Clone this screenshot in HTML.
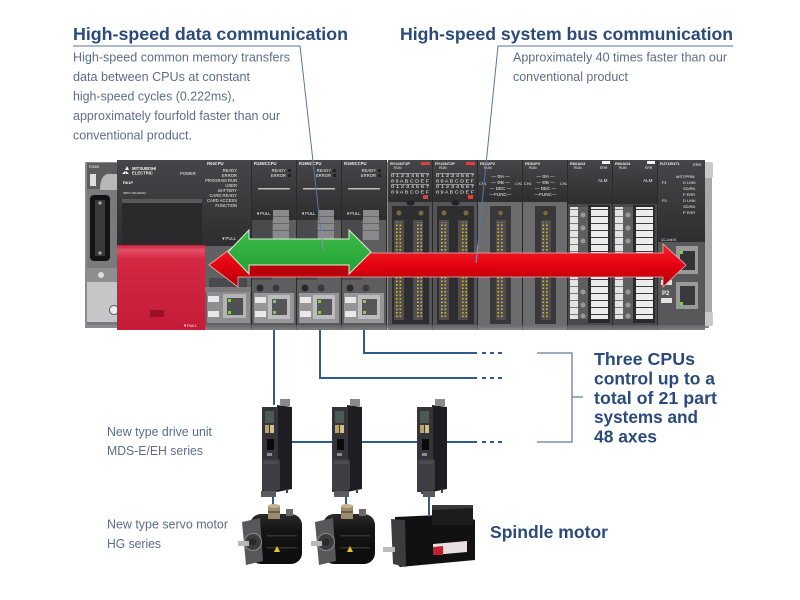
<!DOCTYPE html>
<html><head><meta charset="utf-8">
<style>
html,body{margin:0;padding:0;background:#fff;width:800px;height:600px;overflow:hidden;}
svg{display:block;}
text{font-family:"Liberation Sans",Arial,sans-serif;}
</style></head><body>
<svg width="800" height="600" viewBox="0 0 800 600" xmlns="http://www.w3.org/2000/svg">
<defs>
 <linearGradient id="redg" x1="0" y1="0" x2="0" y2="1">
  <stop offset="0" stop-color="#f5222c"/>
  <stop offset="0.55" stop-color="#e2000f"/>
  <stop offset="1" stop-color="#a8000a"/>
 </linearGradient>
 <linearGradient id="greeng" x1="0" y1="0" x2="0" y2="1">
  <stop offset="0" stop-color="#3cbc48"/>
  <stop offset="1" stop-color="#23a035"/>
 </linearGradient>
 <linearGradient id="psred" x1="0" y1="0" x2="0" y2="1">
  <stop offset="0" stop-color="#c81d38"/>
  <stop offset="0.06" stop-color="#e4506a"/>
  <stop offset="0.16" stop-color="#d42843"/>
  <stop offset="1" stop-color="#c41c38"/>
 </linearGradient>
 <linearGradient id="darkg" x1="0" y1="0" x2="0" y2="1">
  <stop offset="0" stop-color="#46464a"/>
  <stop offset="1" stop-color="#2e2e31"/>
 </linearGradient>
 <linearGradient id="botg" x1="0" y1="0" x2="0" y2="1">
  <stop offset="0" stop-color="#6a6a6c"/>
  <stop offset="1" stop-color="#9a9a9c"/>
 </linearGradient>
 <linearGradient id="motg" x1="0" y1="0" x2="0" y2="1">
  <stop offset="0" stop-color="#2a2a2a"/>
  <stop offset="0.3" stop-color="#151515"/>
  <stop offset="1" stop-color="#0c0c0c"/>
 </linearGradient>
 <pattern id="ydots" width="3.5" height="3.5" patternUnits="userSpaceOnUse">
  <rect x="0.5" y="0.5" width="1.6" height="1.6" fill="#d8b432"/>
 </pattern>
 <pattern id="term" width="10" height="7" patternUnits="userSpaceOnUse">
  <rect x="0" y="0" width="10" height="7" fill="#ececec"/>
  <rect x="0" y="6" width="10" height="1" fill="#3a3a3a"/>
 </pattern>
</defs>

<!-- ===== Headings ===== -->
<text x="73" y="40" font-size="17.8" font-weight="bold" fill="#2b4a7c" textLength="275" lengthAdjust="spacingAndGlyphs">High-speed data communication</text>
<text x="400" y="40" font-size="17.8" font-weight="bold" fill="#2b4a7c" textLength="333" lengthAdjust="spacingAndGlyphs">High-speed system bus communication</text>

<g font-size="12.6" fill="#5d6d89">
 <text x="73" y="61.5" textLength="217" lengthAdjust="spacingAndGlyphs">High-speed common memory transfers</text>
 <text x="73" y="81" textLength="177" lengthAdjust="spacingAndGlyphs">data between CPUs at constant</text>
 <text x="73" y="100.5" textLength="162" lengthAdjust="spacingAndGlyphs">high-speed cycles (0.222ms),</text>
 <text x="73" y="120" textLength="207" lengthAdjust="spacingAndGlyphs">approximately fourfold faster than our</text>
 <text x="73" y="139.5" textLength="119" lengthAdjust="spacingAndGlyphs">conventional product.</text>
 <text x="513" y="61.5" textLength="214" lengthAdjust="spacingAndGlyphs">Approximately 40 times faster than our</text>
 <text x="513" y="81" textLength="115" lengthAdjust="spacingAndGlyphs">conventional product</text>
</g>

<!-- ===== PLC rack ===== -->
<rect x="85" y="162" width="624" height="166" fill="#8c8c8e"/>
<rect x="703" y="168" width="9" height="150" fill="#a8a8aa" rx="2"/>
<rect x="704" y="162" width="9" height="16" fill="#c8c8ca" rx="2"/>
<rect x="704" y="312" width="9" height="14" fill="#c8c8ca" rx="2"/>

<!-- R35B -->
<rect x="87" y="163" width="31" height="162" fill="#7a7a7c"/>
<rect x="87" y="163" width="31" height="26" fill="#5c5c5e"/>
<text x="89" y="168" font-size="4" fill="#eee">R35B</text>
<rect x="90" y="174" width="6" height="12" fill="#dddddd"/>
<path d="M100 190 Q100 172 112 174 L118 174 L118 190 Z" fill="#b8b8ba"/>
<rect x="90" y="195" width="20" height="66" rx="4" fill="#131313"/>
<rect x="95" y="200" width="10" height="56" fill="#3a3a3a"/>
<circle cx="100" cy="203" r="1.6" fill="#aaa"/><circle cx="100" cy="253" r="1.6" fill="#aaa"/>
<rect x="87" y="268" width="31" height="14" fill="#8e8e90"/>
<circle cx="101" cy="275" r="3" fill="#dcdcdc"/>
<rect x="87" y="282" width="31" height="40" fill="#c6c6c8"/>
<circle cx="114" cy="310" r="4.5" fill="#eee" stroke="#555" stroke-width="1"/>

<!-- R61P power supply -->
<rect x="117" y="160" width="88" height="86" fill="url(#darkg)"/>
<rect x="122" y="199" width="80" height="4" fill="#585858"/>
<rect x="122" y="203" width="80" height="43" fill="#2a2a2c"/>
<g fill="#f2f2f2" font-size="4.5">
 <path d="M125 170 l2 -4 l2 4 z M122 174 l3 -3 l1 3 z M129 174 l-3 -3 l-1 3 z"/>
 <text x="132" y="170" font-size="4.2" font-weight="bold">MITSUBISHI</text>
 <text x="132" y="174.5" font-size="4.2" font-weight="bold">ELECTRIC</text>
 <text x="180" y="175" font-size="4.2">POWER</text>
 <text x="123" y="184" font-size="4" font-weight="bold">R61P</text>
 <text x="123" y="194" font-size="2.6">INPUT 100-240VAC</text>
</g>
<rect x="117" y="245" width="88" height="85" fill="url(#psred)"/>
<rect x="150" y="310" width="14" height="7" fill="#9a1026"/>
<text x="183" y="327" font-size="4" fill="#fff">▼PULL</text>

<!-- R04CPU -->
<rect x="205" y="160" width="47" height="170" fill="#616163"/>
<rect x="205" y="160" width="47" height="86" fill="url(#darkg)"/>
<g fill="#eeeeee" font-size="4.2" text-anchor="end">
 <text x="207" y="165" text-anchor="start" font-weight="bold">R04CPU</text>
 <text x="237" y="172">READY</text>
 <text x="237" y="177">ERROR</text>
 <text x="237" y="182">PROGRAM RUN</text>
 <text x="237" y="187">USER</text>
 <text x="237" y="192">BATTERY</text>
 <text x="237" y="197">CARD READY</text>
 <text x="237" y="202">CARD ACCESS</text>
 <text x="237" y="207">FUNCTION</text>
 <text x="236" y="240">▼PULL</text>
</g>
<rect x="209" y="278" width="38" height="9" fill="#4a4a4c"/>
<rect x="205" y="287" width="47" height="5" fill="#7a7a7c"/>
<rect x="207" y="292" width="43" height="31" fill="#8e8e90"/>
<rect x="208" y="296" width="11" height="6" fill="#e8e8e8"/><rect x="208" y="311" width="11" height="6" fill="#e8e8e8"/>
<rect x="223" y="294" width="23" height="24" fill="#b4b4b6"/><rect x="227" y="298" width="16" height="17" fill="#505052"/>
<rect x="228" y="299" width="3" height="3" fill="#7cd04a"/><rect x="228" y="311" width="3" height="3" fill="#7cd04a"/>

<!-- R16NCCPU x3 -->
<g id="nc">
 <rect x="252" y="160" width="45" height="170" fill="#5e5e60"/>
 <rect x="252" y="160" width="45" height="60" fill="url(#darkg)"/>
 <text x="254" y="165" font-size="4.2" fill="#eee" font-weight="bold">R16NCCPU</text>
 <text x="286" y="172" font-size="4.2" fill="#eee" text-anchor="end">READY</text>
 <text x="286" y="177" font-size="4.2" fill="#eee" text-anchor="end">ERROR</text>
 <rect x="288" y="169" width="3" height="3" fill="#222"/><rect x="288" y="174" width="3" height="3" fill="#222"/>
 <rect x="258" y="188" width="32" height="1.5" fill="#bbbbbb"/>
 <text x="256" y="215" font-size="4.2" fill="#eee">▼PULL</text>
 <rect x="252" y="220" width="20" height="60" fill="#4a4a4c"/>
 <rect x="273" y="210" width="16" height="30" fill="#8a8a8c"/>
 <rect x="273" y="216" width="16" height="1" fill="#666"/><rect x="273" y="223" width="16" height="1" fill="#666"/><rect x="273" y="230" width="16" height="1" fill="#666"/>
 <circle cx="260" cy="288" r="3.5" fill="#2a2a2a"/><circle cx="276" cy="288" r="3.5" fill="#3a3a3a"/>
 <rect x="254" y="293" width="40" height="30" fill="#969698"/>
 <rect x="255" y="297" width="11" height="6" fill="#e8e8e8"/><rect x="255" y="311" width="11" height="6" fill="#e8e8e8"/>
 <rect x="268" y="295" width="22" height="24" fill="#bcbcbe"/><rect x="272" y="299" width="15" height="16" fill="#565658"/>
 <rect x="273" y="300" width="3" height="3" fill="#7cd04a"/><rect x="273" y="311" width="3" height="3" fill="#7cd04a"/>
 <rect x="252" y="323" width="45" height="7" fill="#58585a"/>
 <rect x="296" y="160" width="1" height="170" fill="#2a2a2a"/>
</g>
<use href="#nc" x="45"/>
<use href="#nc" x="90"/>
<rect x="251" y="160" width="1" height="170" fill="#2a2a2a"/>

<!-- I/O modules RY42NT2P, RX42C4 -->
<g id="io">
 <rect x="388" y="160" width="45" height="170" fill="#555558"/>
 <rect x="388" y="160" width="45" height="42" fill="url(#darkg)"/>
 <text x="390" y="165" font-size="4" fill="#eee" font-weight="bold">RY42NT2P</text>
 <text x="394" y="169" font-size="3.5" fill="#eee">RUN</text>
 <rect x="421" y="162" width="9" height="3" fill="#e04040"/>
 <g font-size="4.4" fill="#f0f0f0">
  <text x="391" y="177" textLength="38" lengthAdjust="spacingAndGlyphs">0 1 2 3 4 5 6 7</text>
  <text x="391" y="182.5" textLength="38" lengthAdjust="spacingAndGlyphs">8 9 A B C D E F</text>
  <text x="391" y="188" textLength="38" lengthAdjust="spacingAndGlyphs">0 1 2 3 4 5 6 7</text>
  <text x="391" y="193.5" textLength="38" lengthAdjust="spacingAndGlyphs">8 9 A B C D E F</text>
 </g>
 <rect x="391" y="173" width="38" height="0.6" fill="#ccc"/><rect x="391" y="184" width="38" height="0.6" fill="#ccc"/>
 <rect x="423" y="195" width="5" height="4" fill="#e04040"/>
 <ellipse cx="410.5" cy="203" rx="4" ry="2.5" fill="#222"/>
 <rect x="392" y="206" width="37" height="118" fill="#2e2e30"/>
 <circle cx="399" cy="213" r="2.5" fill="#7a6a3a"/><circle cx="421" cy="213" r="2.5" fill="#7a6a3a"/>
 <rect x="394" y="220" width="10" height="100" fill="#4e4e50"/>
 <rect x="413" y="220" width="10" height="100" fill="#4e4e50"/>
 <rect x="396" y="222" width="7" height="96" fill="url(#ydots)"/>
 <rect x="415" y="222" width="7" height="96" fill="url(#ydots)"/>
 <rect x="432" y="160" width="1" height="170" fill="#2a2a2a"/>
</g>
<use href="#io" x="45"/>

<!-- RD62P2 x2 -->
<g id="rd">
 <rect x="478" y="160" width="45" height="170" fill="#6c6c6f"/>
 <rect x="478" y="160" width="45" height="42" fill="url(#darkg)"/>
 <text x="480" y="165" font-size="4" fill="#eee" font-weight="bold">RD62P2</text>
 <text x="484" y="169" font-size="3.5" fill="#eee">RUN</text>
 <g font-size="4.6" fill="#f0f0f0" text-anchor="middle">
  <text x="500.5" y="178">— ΦA —</text>
  <text x="500.5" y="184">— ΦB —</text>
  <text x="500.5" y="190">— DEC —</text>
  <text x="500.5" y="196">—FUNC—</text>
 </g>
 <text x="479" y="185" font-size="3.8" fill="#eee">CH1</text>
 <text x="515" y="185" font-size="3.8" fill="#eee">CH2</text>
 <rect x="490" y="206" width="21" height="118" fill="#38383a"/>
 <circle cx="500.5" cy="213" r="2.3" fill="#7a6a3a"/>
 <rect x="496" y="220" width="10" height="100" fill="#4e4e50"/>
 <rect x="497.5" y="222" width="7" height="96" fill="url(#ydots)"/>
 <rect x="522" y="160" width="1" height="170" fill="#2a2a2a"/>
</g>
<use href="#rd" x="45"/>

<!-- R60AD4 x2 -->
<g id="ad">
 <rect x="568" y="160" width="45" height="170" fill="#4a4a4c"/>
 <rect x="568" y="160" width="45" height="44" fill="url(#darkg)"/>
 <text x="570" y="165" font-size="4" fill="#eee" font-weight="bold">R60AD4</text>
 <text x="574" y="169" font-size="3.5" fill="#eee">RUN</text>
 <text x="600" y="169" font-size="3.5" fill="#eee">ERR</text>
 <rect x="602" y="161" width="8" height="3" fill="#f4f4f4"/>
 <text x="598" y="182" font-size="4.6" fill="#eee">ALM</text>
 <rect x="570" y="207" width="8" height="112" fill="#d8d8d8"/>
 <rect x="570" y="207" width="8" height="112" fill="url(#term)" opacity="0.6"/>
 <rect x="578" y="207" width="10" height="112" fill="#5e5e60"/>
 <circle cx="583" cy="215" r="2.5" fill="#999"/><circle cx="583" cy="228" r="2.5" fill="#999"/><circle cx="583" cy="241" r="2.5" fill="#999"/>
 <circle cx="583" cy="292" r="2.5" fill="#999"/><circle cx="583" cy="305" r="2.5" fill="#999"/><circle cx="583" cy="316" r="2.5" fill="#999"/>
 <rect x="588" y="205" width="22" height="118" fill="#2a2a2c"/>
 <rect x="591" y="207" width="17" height="112" fill="url(#term)"/>
 <rect x="612" y="160" width="1" height="170" fill="#2a2a2a"/>
</g>
<use href="#ad" x="45"/>

<!-- RJ71EN71 -->
<rect x="658" y="160" width="47" height="170" fill="#58585a"/>
<rect x="658" y="160" width="47" height="82" fill="url(#darkg)"/>
<g font-size="4" fill="#eee">
 <text x="660" y="165" font-weight="bold">RJ71EN71</text>
 <text x="693" y="166">ERR</text>
 <text x="676" y="178">MST/PRM</text>
 <text x="662" y="184">P1</text><text x="683" y="184">D LINK</text>
 <text x="683" y="190">SD/RD</text><text x="683" y="196">P ERR</text>
 <text x="662" y="202">P2</text><text x="683" y="202">D LINK</text>
 <text x="683" y="208">SD/RD</text><text x="683" y="214">P ERR</text>
 <text x="661" y="241" font-size="3.2">CC-Link IE</text>
</g>
<rect x="676" y="246" width="22" height="28" fill="#9a9a9c"/><rect x="680" y="251" width="15" height="19" fill="#333335"/>
<rect x="680" y="251" width="3" height="3" fill="#7cd04a"/>
<rect x="676" y="282" width="22" height="27" fill="#9a9a9c"/><rect x="680" y="286" width="15" height="19" fill="#3a3a3c"/>
<rect x="680" y="302" width="3" height="3" fill="#7cd04a"/>
<text x="662" y="295" font-size="6" fill="#f0f0f0" font-weight="bold">P2</text>
<rect x="661" y="298" width="11" height="5" fill="#e0e0e0"/>
<rect x="661" y="280" width="11" height="5" fill="#e0e0e0"/>

<rect x="205" y="325" width="500" height="5" fill="url(#botg)" opacity="0.6"/>

<!-- ===== Leader lines ===== -->
<g stroke="#5a7599" stroke-width="1" fill="none">
 <polyline points="73,46 300,46 323,250"/>
 <polyline points="733,46 498,46 476,263"/>
</g>

<!-- ===== Arrows ===== -->
<polygon points="209,265 238,243 238,253 663,253 663,244 686,265 663,287 663,277 238,277 238,287" fill="url(#redg)" stroke="#f6b0b0" stroke-width="0.8"/>
<rect x="250" y="265" width="99" height="10" fill="#9c000a" opacity="0.55"/>
<polygon points="228,252 249,230 249,239 349,239 349,230 371,252 349,274 349,265 249,265 249,274" fill="url(#greeng)" stroke="#d8f0d8" stroke-width="1"/>
<line x1="321" y1="230" x2="323" y2="250" stroke="#7f97b8" stroke-width="1"/>
<line x1="478" y1="245" x2="476" y2="263" stroke="#7f97b8" stroke-width="1"/>

<!-- ===== Network lines ===== -->
<g stroke="#2f5b8e" stroke-width="2" fill="none">
 <polyline points="274,330 274,405"/>
 <polyline points="320,330 320,378 477,378"/>
 <polyline points="364,330 364,353 477,353"/>
 <line x1="292" y1="442" x2="332" y2="442"/>
 <line x1="362" y1="442" x2="417" y2="442"/>
 <line x1="447" y1="442" x2="477" y2="442"/>
 <g stroke-dasharray="4,4">
  <line x1="482" y1="353" x2="506" y2="353"/>
  <line x1="482" y1="378" x2="506" y2="378"/>
  <line x1="482" y1="442" x2="506" y2="442"/>
 </g>
 <line x1="273" y1="490" x2="273" y2="505"/>
 <line x1="346" y1="490" x2="346" y2="505"/>
 <line x1="429" y1="490" x2="429" y2="515"/>
</g>

<!-- bracket -->
<polyline points="537,353 572,353 572,442 537,442" fill="none" stroke="#7a8fae" stroke-width="1.5"/>
<line x1="572" y1="397" x2="583" y2="397" stroke="#7a8fae" stroke-width="1.5"/>

<g font-size="17.5" font-weight="bold" fill="#2b4a7c">
 <text x="594" y="365" textLength="101" lengthAdjust="spacingAndGlyphs">Three CPUs</text>
 <text x="594" y="384.5" textLength="121" lengthAdjust="spacingAndGlyphs">control up to a</text>
 <text x="594" y="404" textLength="123" lengthAdjust="spacingAndGlyphs">total of 21 part</text>
 <text x="594" y="423" textLength="104" lengthAdjust="spacingAndGlyphs">systems and</text>
 <text x="594" y="442.5" textLength="63" lengthAdjust="spacingAndGlyphs">48 axes</text>
</g>

<!-- ===== Drive units ===== -->
<g id="drv" transform="translate(262,405)">
 <polygon points="15,0 30,2 30,84 15,87" fill="#1e1e22"/>
 <rect x="0" y="2" width="16" height="85" fill="#34343a"/>
 <rect x="18" y="-6" width="10" height="7" fill="#8a8a8c"/>
 <rect x="3" y="6" width="9" height="12" fill="#4c5a52"/>
 <rect x="3" y="20" width="4" height="8" fill="#b8a466"/>
 <rect x="8" y="20" width="4" height="8" fill="#cfc08a"/>
 <rect x="5" y="34" width="7" height="11" fill="#0a0a0a"/>
 <rect x="5" y="48" width="5" height="3" fill="#8a8a8a"/>
 <rect x="0" y="54" width="18" height="31" rx="2" fill="#3e3e44"/>
 <rect x="2" y="56" width="14" height="3" fill="#4c4c52"/>
 <rect x="4" y="85" width="2" height="4" fill="#444"/><rect x="24" y="84" width="2" height="4" fill="#444"/>
</g>
<use href="#drv" transform="translate(70,0)"/>
<use href="#drv" transform="translate(155,0)"/>

<!-- ===== Motors ===== -->
<g id="srv" transform="translate(240,500)">
 <rect x="21" y="-9" width="15" height="6" fill="#5a5a5c"/>
 <rect x="10" y="14" width="52" height="50" rx="11" fill="url(#motg)"/>
 <rect x="46" y="9" width="7" height="7" fill="#6a6a6a"/>
 <rect x="28" y="6" width="12" height="13" fill="#9c8c6c"/>
 <ellipse cx="34" cy="6" rx="6" ry="2" fill="#c4b494"/>
 <rect x="28" y="11" width="12" height="2" fill="#6e5e44"/>
 <polygon points="2,22 20,18 23,61 6,65" fill="#58585a"/>
 <circle cx="13" cy="42" r="8.5" fill="#3c3c3e" stroke="#8a8a8a" stroke-width="1"/>
 <circle cx="13" cy="42" r="3.5" fill="#2a2a2a"/>
 <rect x="-2" y="41" width="11" height="5" fill="#b8b8b8"/>
 <rect x="27" y="35" width="30" height="1.5" fill="#333"/>
 <rect x="27" y="47" width="30" height="1.5" fill="#333"/>
 <polygon points="34,52 40,52 37,46" fill="#e6c62a"/>
</g>
<use href="#srv" transform="translate(73,0)"/>

<g transform="translate(385,505)">
 <rect x="38" y="-14" width="12" height="6" fill="#5a5a5c"/>
 <polygon points="10,12 75,9 90,15 90,55 15,62 8,55" fill="#111"/>
 <rect x="47" y="0" width="41" height="20" fill="#1c1c1c"/>
 <polygon points="47,0 88,0 88,3 47,5" fill="#3a3a3a"/>
 <polygon points="6,14 20,15 21,62 8,59" fill="#3c3c3e"/>
 <rect x="-2" y="42" width="12" height="5" fill="#bcbcbc"/>
 <polygon points="48,39 82,36 82,47 48,50" fill="#e8e0e0"/>
 <polygon points="48,42 58,41 58,50 48,50" fill="#c02030"/>
</g>

<!-- ===== Labels ===== -->
<g font-size="12.6" fill="#5d6d89">
 <text x="107" y="436" textLength="105" lengthAdjust="spacingAndGlyphs">New type drive unit</text>
 <text x="107" y="455" textLength="96" lengthAdjust="spacingAndGlyphs">MDS-E/EH series</text>
 <text x="107" y="528.5" textLength="121" lengthAdjust="spacingAndGlyphs">New type servo motor</text>
 <text x="107" y="548" textLength="54" lengthAdjust="spacingAndGlyphs">HG series</text>
</g>
<text x="490" y="538" font-size="17.5" font-weight="bold" fill="#2b4a7c" textLength="118" lengthAdjust="spacingAndGlyphs">Spindle motor</text>
</svg>
</body></html>
